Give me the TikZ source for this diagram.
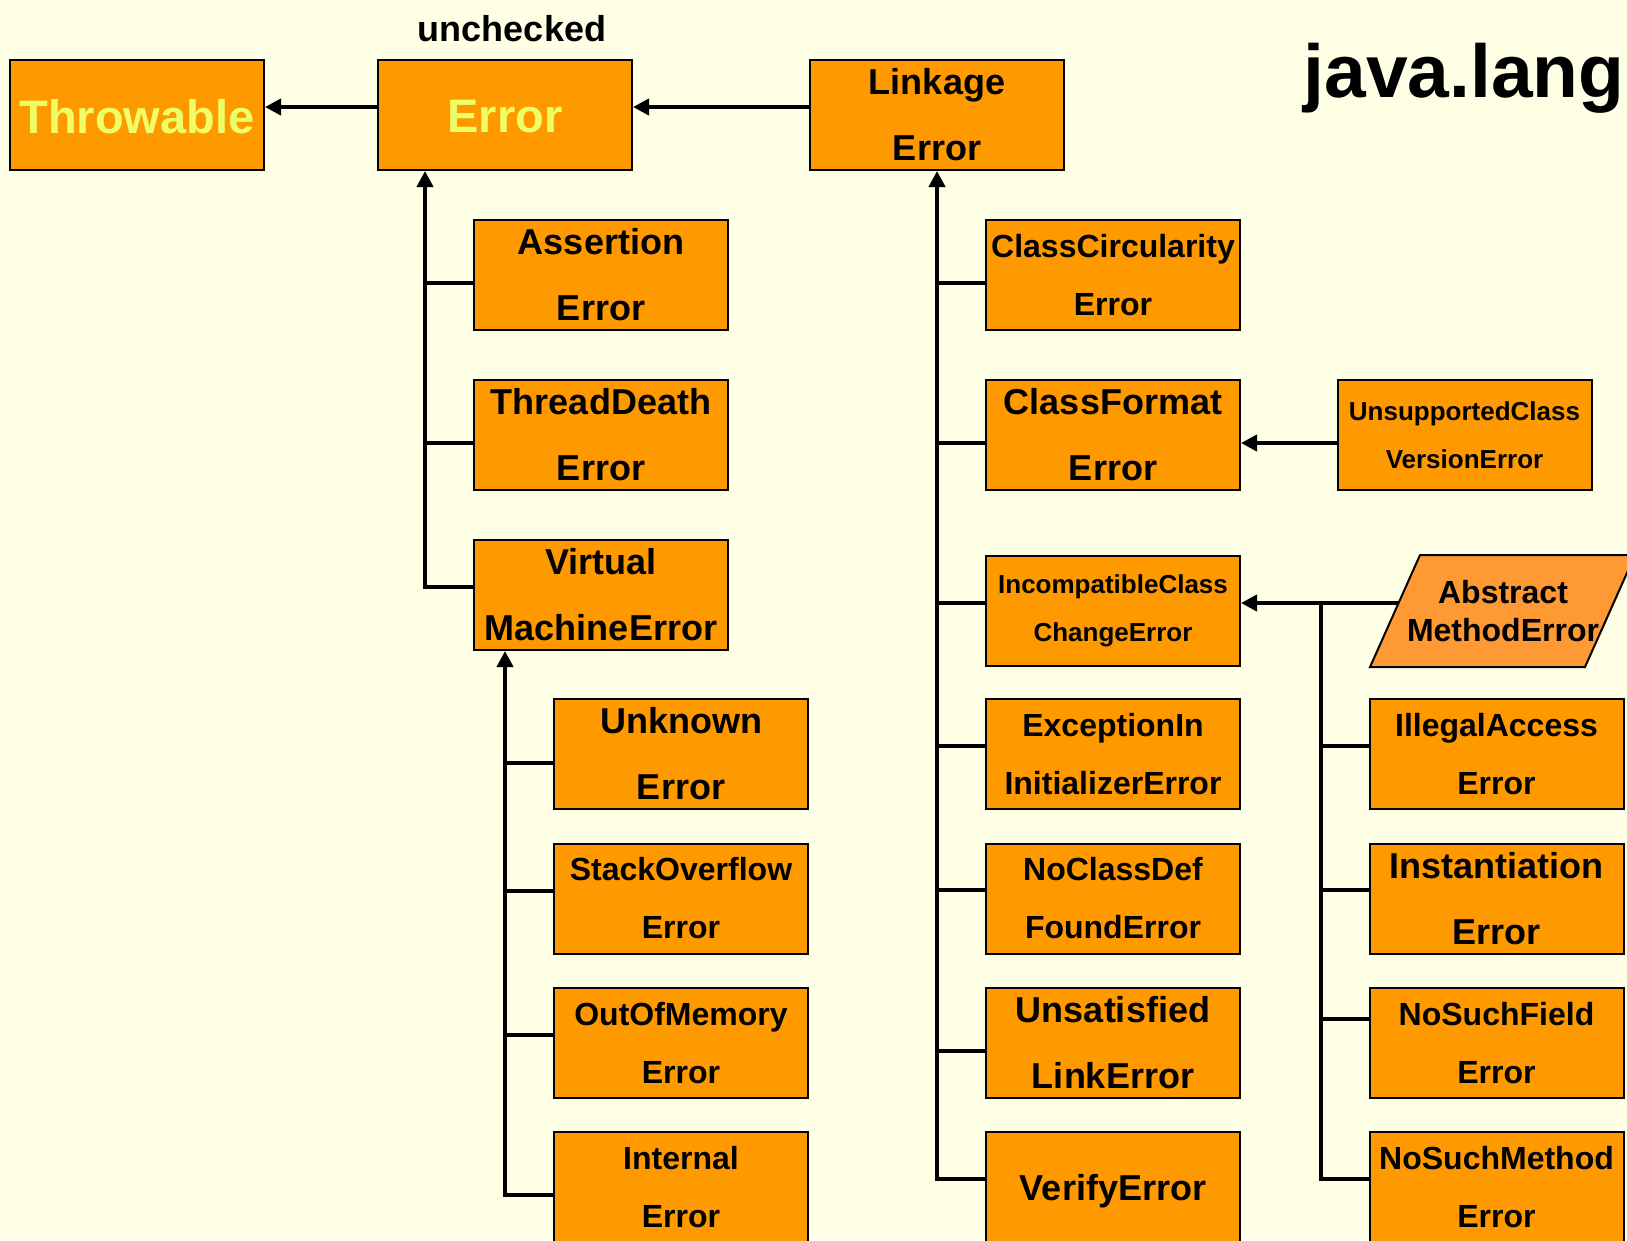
\documentclass[tikz,border=0pt]{standalone}
\usepackage{fontspec}
\setmainfont{Liberation Sans}
\usetikzlibrary{arrows.meta}
\definecolor{paper}{HTML}{FFFFE6}
\definecolor{jorange}{HTML}{FF9900}
\definecolor{jlight}{HTML}{FF9933}
\definecolor{jyellow}{HTML}{EEFF66}
% lower a label inside its box without changing the box size
\newcommand{\droptext}[2]{\raisebox{-#1}[\height][\depth]{#2}}
\tikzset{
  klass/.style={draw=black, line width=2pt, fill=jorange, minimum width=254pt,
    minimum height=110pt, inner sep=0pt, align=center, text=black},
  rootbox/.style={klass, font=\fontsize{47}{56}\selectfont\bfseries, text=jyellow},
  fa/.style={klass, font=\fontsize{36}{66}\selectfont\bfseries},
  fb/.style={klass, font=\fontsize{32}{58}\selectfont\bfseries},
  fc/.style={klass, font=\fontsize{26}{48}\selectfont\bfseries},
  link/.style={line width=4pt, draw=black},
  inherit/.style={link, -{Triangle[length=16pt,width=16pt]}},
}
\begin{document}
\begin{tikzpicture}[x=1pt,y=-1pt]
\clip (0,0) rectangle (1627,1240);
\fill[paper] (0,0) rectangle (1627,1240);

% titles
\node[anchor=base, font=\fontsize{36}{40}\selectfont\bfseries] (unc) at (512,41) {unchecked};
\node[anchor=base, font=\fontsize{75}{80}\selectfont\bfseries] (pkg) at (1464,97) {java.lang};

% top row
\node[rootbox] (thr) at (137,115) {\droptext{2pt}{Throwable}};
\node[rootbox] (err) at (505,115) {\droptext{2pt}{Error}};
\node[fa] (lnk) at (937,115) {Linkage\\Error};

% direct subclasses of Error
\node[fa] (ase) at (601,275) {Assertion\\Error};
\node[fa] (tde) at (601,435) {ThreadDeath\\Error};
\node[fa] (vme) at (601,595) {Virtual\\MachineError};

% subclasses of VirtualMachineError
\node[fa] (unk) at (681,754) {Unknown\\Error};
\node[fb] (soe) at (681,898.5) {StackOverflow\\Error};
\node[fb] (oom) at (681,1043) {OutOfMemory\\Error};
\node[fb] (ine) at (681,1187) {Internal\\Error};

% subclasses of LinkageError
\node[fb] (cce) at (1113,275) {ClassCircularity\\Error};
\node[fa] (cfe) at (1113,435) {ClassFormat\\Error};
\node[fc] (icc) at (1113,611) {IncompatibleClass\\ChangeError};
\node[fb] (eii) at (1113,754) {ExceptionIn\\InitializerError};
\node[fb] (ncd) at (1113,898.5) {NoClassDef\\FoundError};
\node[fa] (ule) at (1113,1043) {Unsatisfied\\LinkError};
\node[fa] (vfe) at (1113,1187) {\droptext{4pt}{VerifyError}};

\node[fc] (ucv) at (1464.5,435) {UnsupportedClass\\VersionError};

% subclasses of IncompatibleClassChangeError
\coordinate (amBL) at (1370,667);
\coordinate (amBR) at (1585,667);
\coordinate (amTR) at (1635,555);
\coordinate (amTL) at (1420,555);
\draw[line width=2pt, fill=jlight] (amBL) -- (amBR) -- (amTR) -- (amTL) -- cycle;
\node[align=center, font=\fontsize{32}{38}\selectfont\bfseries] (ame) at (1503,611) {Abstract\\MethodError};
\coordinate (amIn) at (1398.6,603);

\node[fb] (iae) at (1496.5,754) {IllegalAccess\\Error};
\node[fa] (ise) at (1496.5,898.5) {Instantiation\\Error};
\node[fb] (nsf) at (1496.5,1043) {NoSuchField\\Error};
\node[fb] (nsm) at (1496.5,1187) {NoSuchMethod\\Error};

% horizontal inheritance arrows
\draw[inherit] ([yshift=8pt]err.west) -- ([yshift=8pt]thr.east);
\draw[inherit] ([yshift=8pt]lnk.west) -- ([yshift=8pt]err.east);
\draw[inherit] ([yshift=-8pt]ucv.west) -- ([yshift=-8pt]cfe.east);

% Error trunk
\coordinate (e1) at (425,283);
\coordinate (e2) at (425,443);
\coordinate (e3) at (425,587);
\draw[link] (ase.west |- e1) -- (e1);
\draw[link] (tde.west |- e2) -- (e2);
\draw[inherit] (vme.west |- e3) -- (e3) -- (e3 |- err.south);

% VirtualMachineError trunk
\coordinate (v1) at (505,763);
\coordinate (v2) at (505,890.5);
\coordinate (v3) at (505,1034.5);
\coordinate (v4) at (505,1195);
\draw[link] (unk.west |- v1) -- (v1);
\draw[link] (soe.west |- v2) -- (v2);
\draw[link] (oom.west |- v3) -- (v3);
\draw[inherit] (ine.west |- v4) -- (v4) -- (v4 |- vme.south);

% LinkageError trunk
\coordinate (k1) at (937,283);
\coordinate (k2) at (937,443);
\coordinate (k3) at (937,603);
\coordinate (k4) at (937,746);
\coordinate (k5) at (937,890);
\coordinate (k6) at (937,1051);
\coordinate (k7) at (937,1179);
\draw[link] (cce.west |- k1) -- (k1);
\draw[link] (cfe.west |- k2) -- (k2);
\draw[link] (icc.west |- k3) -- (k3);
\draw[link] (eii.west |- k4) -- (k4);
\draw[link] (ncd.west |- k5) -- (k5);
\draw[link] (ule.west |- k6) -- (k6);
\draw[inherit] (vfe.west |- k7) -- (k7) -- (k7 |- lnk.south);

% IncompatibleClassChangeError trunk
\coordinate (a0) at (1321,603);
\coordinate (a1) at (1321,746);
\coordinate (a2) at (1321,890);
\coordinate (a3) at (1321,1019);
\coordinate (a4) at (1321,1179);
\draw[inherit] (amIn) -- (icc.east |- amIn);
\draw[link] (iae.west |- a1) -- (a1);
\draw[link] (ise.west |- a2) -- (a2);
\draw[link] (nsf.west |- a3) -- (a3);
\draw[link] (nsm.west |- a4) -- (a4) -- (a0);
\end{tikzpicture}
\end{document}
